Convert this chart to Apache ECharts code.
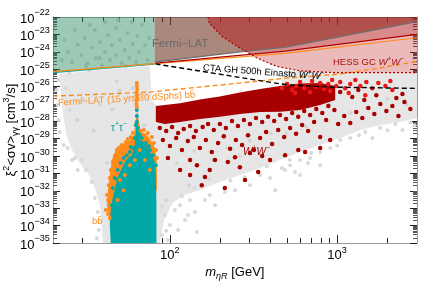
<!DOCTYPE html>
<html><head><meta charset="utf-8">
<script src="https://cdn.jsdelivr.net/npm/echarts@6/dist/echarts.min.js"></script>
<style>html,body{margin:0;padding:0;background:#fff}#c{width:421px;height:281px}</style>
</head><body><div id="c"></div>
<script>
// ---------------- tick values ----------------
const xTicks = [100, 1000];
const xMinorTicks = [30, 40, 50, 60, 70, 80, 90, 200, 300, 400, 500, 600, 700, 800, 900, 2000];
const yTicks = [1e-35,1e-34,1e-33,1e-32,1e-31,1e-30,1e-29,1e-28,1e-27,1e-26,1e-25,1e-24,1e-23,1e-22];
const xRange = [20, 3000];
const yRange = [1e-35, 1e-22];

// ---------------- limit curves ----------------
const tauLimM = [20, 81];
const tauLimSv = [6.4e-26, 2.0e-25];
const bbLimM = [20, 81, 488, 3000];
const bbLimSv = [7.3e-26, 2.1e-25, 8.1e-25, 6.4e-24];
const hessEinM = [82, 488, 3000];
const hessEinSv = [2.2e-25, 1.1e-24, 1.0e-23];
const fermiWWM = [81, 262, 488, 3000];
const fermiWWSv = [2.6e-25, 9.8e-25, 1.8e-24, 5.4e-23];
const ctaM = [82, 151, 301, 488, 908, 3000];
const ctaSv = [2.0e-25, 7.8e-26, 2.7e-26, 1.3e-26, 9.3e-27, 7.8e-27];
const dsphM = [20, 75.9, 262, 505, 1042, 1811, 3000];
const dsphSv = [2.8e-27, 4.8e-27, 1.6e-26, 3.1e-26, 5.2e-26, 1.2e-25, 2.75e-25];
const hessNfwM = [169, 171.5, 207, 262, 332, 414, 455, 600, 946, 3000];
const hessNfwSv = [1e-22, 4.5e-23, 7.1e-24, 1.66e-24, 4.4e-25, 1.74e-25, 1.3e-25, 8.1e-26, 6.3e-26, 6.3e-26];

// ---------------- excluded regions ----------------
const fermiTauRegion = [[20,6.4e-26],[81,2.0e-25],[81,1e-22],[20,1e-22]];
const fermiWWRegion = [[81,2.6e-25],[262,9.8e-25],[488,1.8e-24],[3000,5.4e-23],[3000,1e-22],[81,1e-22]];
const hessNfwRegion = [[169,1e-22],[171.5,4.5e-23],[207,7.1e-24],[262,1.66e-24],[332,4.4e-25],[414,1.74e-25],[455,1.3e-25],[600,8.1e-26],[946,6.3e-26],[3000,6.3e-26],[3000,1e-22]];
const hessEinRegion = [[169,1e-22],[171.5,4.5e-23],[207,7.1e-24],[262,1.66e-24],[301,7.4e-25],[488,1.1e-24],[3000,1e-23],[3000,1e-22]];

// ---------------- dense point clouds (outlines) ----------------
const grayCloud = [[21.9,5.2e-26],[38.1,8.9e-26],[75.9,1.5e-25],[78,1.7e-27],[85,5.8e-28],[151,1.7e-27],[262,4.3e-27],[455,1.07e-26],[488,8.9e-26],[908,6.0e-26],[3000,6.0e-26],[3000,1.55e-28],[2388,9.1e-29],[1811,6.2e-29],[1374,3.2e-29],[1042,1.1e-29],[791,4.4e-30],[600,1.7e-30],[455,5.9e-31],[346,2.0e-31],[262,8.1e-32],[199,3.2e-32],[151,1.1e-32],[123,6.0e-33],[104,2.1e-33],[92,2.0e-34],[87,1e-35],[39.7,1e-35],[39,1.1e-34],[38.1,1.5e-33],[36,1.1e-32],[33.2,7.1e-32],[28.9,4.0e-31],[26.0,2.2e-30],[24.0,1.6e-29],[23.0,2.3e-28],[22.3,3.2e-27]];
const wwCloud = [[82.4,7.6e-28],[115,1.1e-27],[151,1.8e-27],[199,2.7e-27],[262,4.6e-27],[346,7.2e-27],[455,1.07e-26],[600,1.5e-26],[791,1.6e-26],[973,1.07e-26],[973,1.7e-27],[791,8.7e-28],[600,4.5e-28],[455,3.6e-28],[346,3.4e-28],[262,2.6e-28],[199,1.8e-28],[151,1.35e-28],[115,9.1e-29],[93.3,6.9e-29],[82.4,9.1e-29]];
const tauCloud = [[44.3,1e-35],[43.7,1.1e-34],[44.3,7.9e-34],[45.5,3.9e-33],[47.4,2.1e-32],[49.4,8.1e-32],[51.5,2.0e-31],[53.8,4.6e-31],[56.0,7.8e-31],[59.2,1.1e-30],[61.7,4.4e-30],[63.0,6.2e-29],[63.6,2.3e-28],[64.3,6.2e-29],[66.1,8.3e-30],[69.8,6.4e-30],[73.8,2.9e-30],[78,1.1e-30],[81.3,4.6e-31],[82.4,8.1e-32],[83,3.0e-33],[83,1e-35]];
const bbCloud = [[43.7,1.6e-34],[42.0,1.5e-33],[42.6,1.1e-32],[43.7,8.1e-32],[45.0,5.9e-31],[47.4,2.2e-30],[50.2,4.4e-30],[53.8,5.6e-30],[57.6,8.3e-30],[60.8,1.6e-29],[62.5,1.2e-28],[63.7,4.5e-28],[64.9,1.2e-28],[67.0,2.4e-29],[71.8,1.9e-29],[76.9,8.3e-30],[81.3,2.9e-30],[83.6,5.9e-31],[83.6,1.1e-32],[75.9,5.8e-33],[53.8,1.5e-33],[45.5,7.2e-35]];

// ---------------- individual points ----------------
const grayPts = [[22.6,3.4e-25],[24.6,1e-24],[26,2.6e-25],[28.1,2.5e-24],[29.6,6.5e-25],[31,6.2e-24],[32.2,2.2e-25],[34,1.7e-24],[35.6,1.8e-23],[36,4.4e-25],[38.1,3.6e-24],[39.2,1.7e-25],[40.9,9.8e-25],[42.5,9.2e-24],[43.8,3.4e-25],[45,2.4e-24],[47.5,2.3e-23],[47.4,6.5e-25],[50,4.8e-24],[51.6,2.2e-25],[53.7,1.26e-24],[56,1.2e-23],[57.2,4.4e-25],[60,2.8e-24],[62.5,2.6e-25],[64,8.1e-24],[65.4,9.8e-25],[68,3.5e-23],[70.9,2.4e-24],[73.6,3.4e-25],[75.4,6.2e-24],[33.2,3.5e-23],[27,1.8e-23],[49,6.7e-23],[41,5.2e-23],[59,5.2e-23],[23.5,4.8e-24],[38,4.4e-25],[31.5,1.5e-25],[54.5,1.5e-25],
[21.3,8.7e-28],[21.0,6.3e-27],[21.6,1.2e-28],[21.9,2.4e-29],[23.2,4.4e-30],[24.5,2.9e-30],[27.0,7.8e-31],[29.7,5.9e-31],[31.4,1.6e-31],[34.1,3.2e-32],[35.6,3.9e-33],[37.0,6.0e-34],[37.6,5.6e-35],[36.6,1.9e-35],[25.2,4.5e-28],[23.8,8.1e-27],[21.6,2.4e-26],[26.0,5.9e-31],[28.1,1.6e-31],
[93.3,4.1e-34],[100,1.1e-34],[107,7.9e-34],[115,1.5e-33],[123,2.1e-34],[132,3.0e-33],[141,6.0e-34],[145,4.3e-35],[162,3.0e-33],[173,5.8e-33],[186,1.5e-33],[213,8.5e-33],[245,1.1e-32],[89.5,2.9e-35],[97.3,1.5e-35],[112,5.6e-35],[128,4.1e-34],[90,1.2e-33],[95,5e-35],
[301,2.1e-32],[346,8.1e-32],[397,5.5e-32],[488,1.6e-31],[523,3.0e-31],[600,5.9e-31],[689,7.8e-31],[791,1.7e-30],[908,2.9e-30],[1042,8.3e-30],[1197,1.1e-29],[1472,2.4e-29],[1811,4.1e-29],[2228,6.9e-29],[2738,8.6e-29],[600,8.1e-32],[426,1.1e-32],[791,3.0e-31],[467,2.0e-31],[560,1.2e-31],[670,4.0e-31],[1622,1.1e-29],[2455,3.2e-29],
[170,5e-32],[230,4e-32],[280,6e-32],[380,2.5e-31],[520,6e-31],[700,1.5e-30],[1000,4e-30],[1350,1.6e-29],[2000,3e-29],[2900,6e-29],[140,1.5e-32],[118,5e-33]];

const grayDarkPts = [[30,2e-27],[45,5e-28],[60,8e-27],[35,3e-29],[55,2e-30],[42,4e-31],[70,6e-29],[28,1.2e-28],[50,6e-27],[38,9e-28],[110,4e-31],[140,2e-30],[180,6e-31],[220,3e-30],[300,8e-30],[400,2e-29],[650,5e-29],[1200,3e-28],[2000,2e-27],[900,1e-27],[1500,6e-28],[2600,9e-28],[500,2e-29],[260,1e-30],[130,2e-32],[95,3e-33],[25,6e-26],[33,8e-26],[48,2e-26]];

const tauPts = [[62.5,6.2e-29],[64.3,4.1e-29],[63.4,2.0e-28],[63.4,4.5e-28],[65.2,2.1e-29],[61.7,1.1e-29],[60.0,2.9e-30],[57.6,1.7e-30],[55.2,1.1e-30],[52.9,7.8e-31],[50.8,4.0e-31],[48.7,1.6e-31],[46.8,5.5e-32],[45.5,1.45e-32],[67.9,1.1e-29],[71.8,5.6e-30],[75.9,2.2e-30],[79.1,1.1e-30],[82.4,3.0e-31],[66.1,1.6e-29],[58.3,3.3e-30],[74.8,3.8e-30],[48.7,4.2e-32],[45.0,1.5e-33],[63.4,9.1e-29]];

const bbPts = [[63.4,1.6e-26],[63.4,1.07e-26],[63.8,7.2e-27],[63.4,4.8e-27],[63.4,3.2e-27],[63.8,2.2e-27],[63.4,1.5e-27],[63.0,1.0e-27],[63.4,6.6e-28],
[41.4,7.9e-34],[42.6,3.0e-33],[42.0,5.8e-33],[43.1,2.1e-32],[43.7,5.5e-32],[44.3,1.6e-31],[45.5,4.6e-31],[46.8,1.0e-30],[48.1,2.2e-30],[49.4,2.9e-30],[51.5,4.4e-30],[54.5,6.4e-30],[56.0,9.6e-30],[58.3,1.26e-29],[60.0,2.1e-29],[67.0,2.8e-29],[69.8,3.2e-29],[73.8,2.1e-29],[78.0,1.26e-29],[80.2,5.6e-30],[82.4,2.2e-30],[83.6,7.8e-31],
[50.2,4.2e-32],[53.8,8.1e-32],[57.6,3.0e-31],[70.8,5.9e-31],[75.9,1.6e-31],[48.7,3.0e-33],[52.9,1.1e-32],[66.1,2.2e-30],[61.7,5.9e-31],[42.6,4.7e-34],[43.7,2.7e-34]];

const wwPts = [[87,4.1e-29],[95,2.8e-29],[103,4.7e-29],[112,2.1e-29],[121,3.6e-29],[132,5.4e-29],[143,2.8e-29],[157,4.7e-29],[169,6.9e-29],[183,3.2e-29],[199,6.9e-29],[216,4.1e-29],[235,1.05e-28],[255,5.4e-29],[277,1.2e-28],[301,6.9e-29],[327,1.55e-28],[356,9.1e-29],[386,1.8e-28],[420,1.05e-28],[455,2.3e-28],[495,1.35e-28],[538,3.0e-28],[585,1.8e-28],[635,3.9e-28],[689,2.3e-28],[750,5.1e-28],[815,3.0e-28],[885,7.6e-28],[962,4.5e-28],
[90.8,8.3e-30],[100,3.8e-30],[109,1.1e-29],[118,2.2e-30],[128,7.4e-30],[139,1.26e-29],[151,2.9e-30],[164,8.3e-30],[178,1.7e-30],[194,5.6e-30],[210,1.4e-29],[229,2.6e-30],[248,8.3e-30],[270,4.4e-30],[293,1.6e-29],[318,2.2e-30],[346,1.1e-29],[376,2.4e-29],[408,4.9e-30],[444,3.2e-29],[482,1.26e-29],[523,4.1e-29],[568,1.9e-29],[617,6.2e-29],[670,2.8e-29],[728,9.1e-29],[791,1.26e-29],[859,1.2e-28],[1014,6.9e-29],[1102,2.0e-28],[1197,7.9e-29],[1300,3.4e-28],[1413,1.55e-28],[1535,5.8e-28],[1667,2.6e-28],[1811,1.0e-27],[1968,3.9e-28],[2138,7.6e-28],[2323,2.0e-28],[2523,1.3e-27],[2738,5.1e-28],
[97.3,7.8e-31],[132,5.9e-31],[145,3.0e-31],[162,6.2e-32],[155,2.1e-32],[173,1.6e-31],[213,1.45e-32],[222,4.6e-31],[245,8.7e-31],[262,2.3e-31],[301,1.5e-30],[337,1.2e-31],[397,5.9e-31],[488,1.1e-30],[585,2.2e-30],[643,1.7e-30],[791,2.9e-30],[908,8.3e-30],[115,1.6e-31],[186,5.9e-31],[132,8.1e-32],[281,4.2e-32],[356,1.0e-30],
[1042,4.8e-27],[1230,2.5e-27],[1337,6.3e-27],[1452,1.7e-27],[1714,3.2e-27],[2259,2.2e-27],[2455,3.7e-27]];

const wwBrightPts = [[467,8.1e-27],[501,1.4e-26],[538,6.3e-27],[568,1.07e-26],[600,1.8e-26],[635,8.1e-27],[670,1.2e-26],[708,2.1e-26],[750,9.3e-27],[791,1.6e-26],[835,7.2e-27],[885,1.4e-26],[933,2.4e-26],[987,1.07e-26],[1042,1.8e-26],[1117,8.1e-27],[1197,1.4e-26],[1283,2.4e-26],[1374,1.07e-26],[1493,1.8e-26],[1622,8.1e-27],[1762,1.6e-26],[1941,1.07e-26],[2138,6.3e-27],[2080,2.1e-26],[560,4.3e-27],[689,4.8e-27],[908,5.5e-27],[1172,4.3e-27],[1472,3.2e-27]];

// ---------------- build chart ----------------
const FONT = 'Liberation Sans, Arial, sans-serif';
const lg = Math.log10;
const zip = (a, b) => a.map((v, i) => [v, b[i]]);
const yMinor = [];
yTicks.slice(0, -1).forEach(t => { for (let k = 2; k <= 9; k++) yMinor.push(t * k); });

function poly(pts, fill, zl, z) {
  return {
    type: 'custom', silent: true, clip: true, zlevel: zl, z: z, data: [pts[0]],
    renderItem: (params, api) => ({
      type: 'polygon',
      shape: { points: pts.map(p => api.coord(p)) },
      style: { fill: fill, lineWidth: 0 }
    })
  };
}
function scatter(pts, color, size, z) {
  return { type: 'scatter', silent: true, zlevel: 0, z: z, data: pts, symbol: 'circle', symbolSize: size,
    itemStyle: { color: color, opacity: 1 }, animation: false };
}
function line(m, sv, color, width, type) {
  return { type: 'line', silent: true, zlevel: 1, z: 20, data: zip(m, sv), symbol: 'none', showSymbol: false,
    lineStyle: { color: color, width: width, type: type || 'solid' }, animation: false };
}

const expRich = (big, small, lh) => ({
  b: { fontSize: big, lineHeight: big, verticalAlign: 'bottom', fontFamily: FONT, color: '#000' },
  e: { fontSize: small, lineHeight: small, verticalAlign: 'top', fontFamily: FONT, color: '#000' },
  s: { fontSize: 1, lineHeight: lh }
});
const fmtExp = v => '{b|10}{e|' + String(Math.round(v)).replace('-', '\u2212') + '}{s| }';

const axLine = { show: true, onZero: false, lineStyle: { color: '#9a9a9a', width: 1 } };
const noLine = { show: false, onZero: false };
function dataAxis(pos, range, extra) {
  return Object.assign({ type: 'log', logBase: 10, position: pos, min: range[0], max: range[1],
    splitLine: { show: false }, axisLine: axLine, axisTick: { show: false }, axisLabel: { show: false } }, extra || {});
}
function tickAxis(pos, range, values, len, color, label) {
  return { type: 'value', position: pos, min: lg(range[0]), max: lg(range[1]), splitLine: { show: false },
    axisLine: noLine,
    axisTick: { show: true, inside: true, length: len, customValues: values.map(lg), lineStyle: { color: color } },
    axisLabel: label ? Object.assign({ show: true, customValues: values.map(lg), formatter: fmtExp, margin: 3 }, label) : { show: false } };
}

const xAxes = [
  dataAxis('bottom', xRange, {
    name: '{i|m}{u|\u03b7R}{n| [GeV]}{s| }', nameLocation: 'middle', nameGap: 21,
    nameTextStyle: { fontFamily: FONT, fontSize: 13, color: '#000', rich: {
      i: { fontSize: 13, fontStyle: 'italic', lineHeight: 13, fontFamily: FONT },
      u: { fontSize: 9, fontStyle: 'italic', lineHeight: 9, verticalAlign: 'bottom', fontFamily: FONT },
      n: { fontSize: 13, lineHeight: 13, fontFamily: FONT },
      s: { fontSize: 1, lineHeight: 17 } } } }),
  dataAxis('top', xRange),
  tickAxis('bottom', xRange, xTicks, 8, '#222', { rich: expRich(13, 9, 16) }),
  tickAxis('bottom', xRange, xMinorTicks, 5, '#222'),
  tickAxis('top', xRange, xTicks, 8, '#222'),
  tickAxis('top', xRange, xMinorTicks, 5, '#222')
];
const yAxes = [
  dataAxis('left', yRange, {
    name: '{i|\u03be}{p|2}{n|<\u03c3v>}{u|\u03b3\u03b3}{n| [cm}{p|3}{n|/s]}{s| }', nameLocation: 'middle', nameGap: 33, nameRotate: 90,
    nameTextStyle: { fontFamily: FONT, fontSize: 13, color: '#000', rich: {
      i: { fontSize: 13, lineHeight: 13, fontFamily: FONT },
      n: { fontSize: 13, lineHeight: 13, fontFamily: FONT },
      p: { fontSize: 9, lineHeight: 9, verticalAlign: 'top', fontFamily: FONT },
      u: { fontSize: 9, lineHeight: 9, verticalAlign: 'bottom', fontFamily: FONT },
      s: { fontSize: 1, lineHeight: 18 } } } }),
  dataAxis('right', yRange),
  tickAxis('left', yRange, yTicks, 7, '#222', { rich: expRich(13, 9, 17) }),
  tickAxis('left', yRange, yMinor, 4, '#555'),
  tickAxis('right', yRange, yTicks, 7, '#222'),
  tickAxis('right', yRange, yMinor, 4, '#555')
];

const supRich = (size, color, italic) => ({
  n: { fontSize: size, lineHeight: size, fontFamily: FONT, fill: color, color: color },
  w: { fontSize: size, lineHeight: size, fontFamily: FONT, fontStyle: italic ? 'italic' : 'normal', fill: color, color: color },
  p: { fontSize: size * 0.7, lineHeight: size * 0.7, verticalAlign: 'top', fontFamily: FONT, fill: color, color: color },
  s: { fontSize: 1, lineHeight: size + 4 }
});
function txt(x, y, text, size, color, rot, italic) {
  return { type: 'text', x: x, y: y, rotation: rot || 0, zlevel: 2, z: 100, silent: true,
    style: { text: text, fontSize: size, fontFamily: FONT, fill: color, align: 'left', verticalAlign: 'middle', rich: supRich(size, color, italic) } };
}
const WW = '{w|W}{p|+}{w|W}{p|\u2212}{s| }';

const chart = echarts.init(document.getElementById('c'), null, { renderer: 'canvas' });
chart.setOption({
  animation: false,
  grid: { left: 53, right: 4, top: 17, bottom: 38, containLabel: false, outerBoundsMode: 'none' },
  xAxis: xAxes,
  yAxis: yAxes,
  series: [
    poly(grayCloud, '#e6e6e6', 0, 1),
    scatter(grayPts, '#d9d9d9', 4, 3),
    scatter(grayDarkPts, '#d4d4d4', 4, 3),
    poly(bbCloud, '#ff8c1a', 0, 4),
    poly(tauCloud, '#00a8a8', 0, 5),
    poly(wwCloud, '#a80000', 0, 5),
    scatter(tauPts, '#00a8a8', 4, 6),
    scatter(bbPts, '#ff8c1a', 4, 7),
    scatter(wwPts, '#a80000', 4.5, 7),
    scatter(wwBrightPts, '#ee1515', 4.5, 8),
    poly(fermiTauRegion, 'rgba(40,135,95,0.45)', 1, 1),
    poly(fermiWWRegion, 'rgba(115,55,40,0.6)', 1, 2),
    poly(hessNfwRegion, 'rgba(190,30,30,0.3)', 1, 3),
    poly(hessEinRegion, 'rgba(175,25,25,0.3)', 1, 4),
    line(dsphM, dsphSv, '#ff8c1a', 1.4, [5, 3]),
    line(tauLimM, tauLimSv, '#13a8a8', 1.6),
    line(bbLimM, bbLimSv, '#ff8c1a', 1.2),
    line(hessEinM, hessEinSv, '#b00000', 1.3),
    line(fermiWWM, fermiWWSv, '#707070', 1.4),
    line(ctaM, ctaSv, '#000000', 1.4, [5, 3]),
    line(hessNfwM, hessNfwSv, '#b00000', 1.2, [2, 2])
  ],
  graphic: [
    txt(152, 44, '{n|Fermi\u2212LAT}', 11.5, '#6a6a6a'),
    txt(333, 62, '{n|HESS GC }' + WW, 9.5, '#a81010', 0, true),
    txt(203, 68, '{n|CTA GH 500h Einasto }' + WW, 9.5, '#000000', -0.072, true),
    txt(58, 103, '{n|Fermi\u2212LAT (15 yrs 30 dSphs) bb\u0304}', 9.5, '#ff8c1a', 0.06),
    txt(111, 128, '{w|\u03c4}{p|+}{w|\u03c4}{p|\u2212}{s| }', 10, '#00a0a0'),
    txt(92, 221, '{n|bb\u0304}', 9.5, '#ff8c1a'),
    txt(243, 152, WW, 10, '#a00000', 0, true)
  ]
});
</script>
</body></html>
